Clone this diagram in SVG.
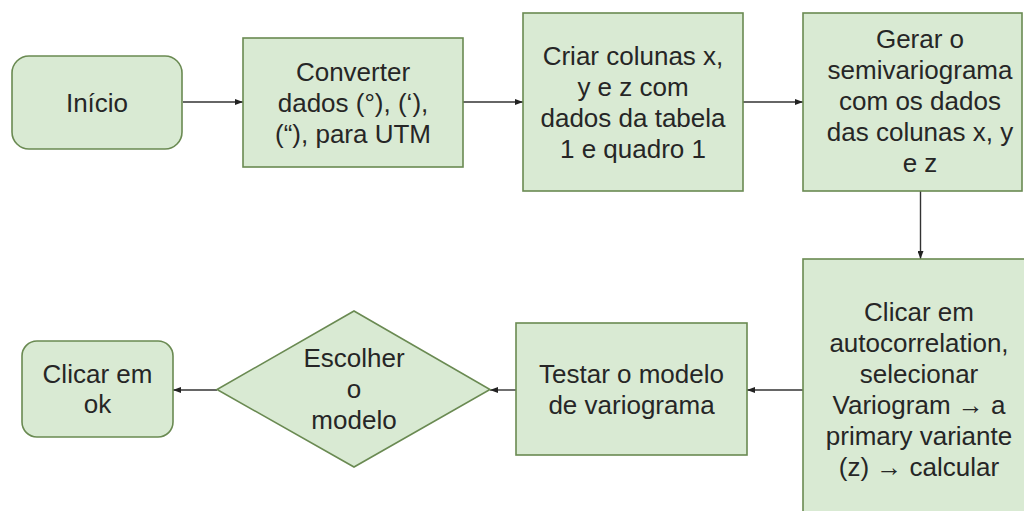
<svg xmlns="http://www.w3.org/2000/svg" width="1024" height="511" viewBox="0 0 1024 511">
<style>
.n{fill:#d9ead3;stroke:#6a8a52;stroke-width:1.6}
.t{font-family:"Liberation Sans",Arial,sans-serif;font-size:26px;fill:#262626;text-anchor:middle}
.c{stroke:#333;stroke-width:1.4;fill:none;marker-end:url(#ah)}
</style>
<defs>
<marker id="ah" viewBox="0 0 8 6" refX="8" refY="3" markerWidth="8" markerHeight="6" markerUnits="userSpaceOnUse" orient="auto">
<path d="M0,0 L8,3 L0,6 Z" fill="#222"/>
</marker>
</defs>
<rect width="1024" height="511" fill="#fff"/>
<g id="connectors">
<line class="c" x1="183" y1="102" x2="243" y2="102"/>
<line class="c" x1="463" y1="102" x2="523" y2="102"/>
<line class="c" x1="743" y1="102" x2="803" y2="102"/>
<line class="c" x1="920.5" y1="191" x2="920.5" y2="259"/>
<line class="c" x1="803" y1="390" x2="747" y2="390"/>
<line class="c" x1="516" y1="390" x2="490" y2="390"/>
<line class="c" x1="217" y1="390" x2="173" y2="390"/>
</g>
<g id="inicio">
<rect class="n" x="12" y="56" width="170" height="93" rx="17"/>
<text class="t" x="97" y="111.5">Início</text>
</g>
<g id="converter">
<rect class="n" x="243" y="38" width="220" height="129"/>
<text class="t" x="353" y="80.5">Converter</text>
<text class="t" x="353" y="111.5">dados (°), (‘),</text>
<text class="t" x="353" y="142.5">(“), para UTM</text>
</g>
<g id="criar">
<rect class="n" x="523" y="13" width="220" height="178"/>
<text class="t" x="633" y="64.5">Criar colunas x,</text>
<text class="t" x="633" y="95.5">y e z com</text>
<text class="t" x="633" y="126.5">dados da tabela</text>
<text class="t" x="633" y="157.5">1 e quadro 1</text>
</g>
<g id="gerar">
<rect class="n" x="803" y="13" width="219" height="178"/>
<text class="t" x="920" y="48">Gerar o</text>
<text class="t" x="920" y="79">semivariograma</text>
<text class="t" x="920" y="110">com os dados</text>
<text class="t" x="920" y="141">das colunas x, y</text>
<text class="t" x="920" y="172">e z</text>
</g>
<g id="clicar-autocorrelation">
<rect class="n" x="803" y="259" width="240" height="270"/>
<text class="t" x="919" y="321">Clicar em</text>
<text class="t" x="919" y="352">autocorrelation,</text>
<text class="t" x="919" y="383">selecionar</text>
<text class="t" x="919" y="414">Variogram → a</text>
<text class="t" x="919" y="445">primary variante</text>
<text class="t" x="919" y="476">(z) → calcular</text>
</g>
<g id="testar">
<rect class="n" x="516" y="323" width="231" height="132"/>
<text class="t" x="631.5" y="382.5">Testar o modelo</text>
<text class="t" x="631.5" y="413.5">de variograma</text>
</g>
<g id="escolher">
<polygon class="n" points="354,311 490,389.5 354,467 217,389.5"/>
<text class="t" x="354" y="367">Escolher</text>
<text class="t" x="354" y="398">o</text>
<text class="t" x="354" y="429">modelo</text>
</g>
<g id="clicar-ok">
<rect class="n" x="22" y="341" width="151" height="96" rx="15"/>
<text class="t" x="97.5" y="383">Clicar em</text>
<text class="t" x="97.5" y="413">ok</text>
</g>
</svg>
